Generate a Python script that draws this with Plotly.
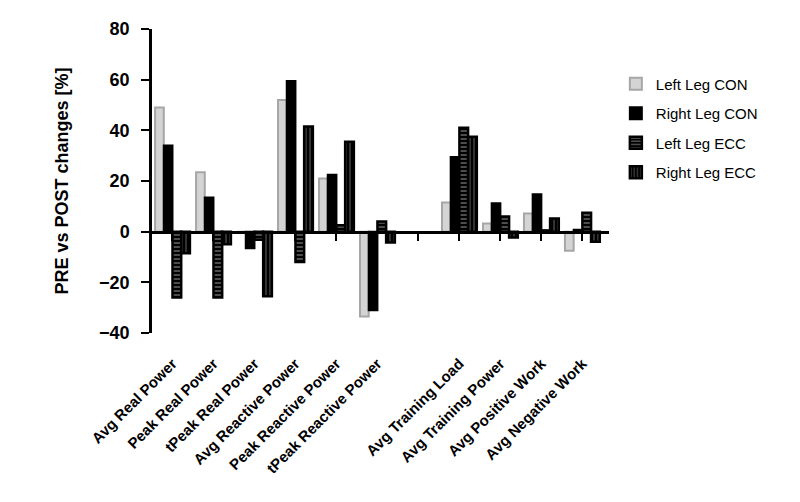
import plotly.graph_objects as go

categories = [
    "Avg Real Power",
    "Peak Real Power",
    "tPeak Real Power",
    "Avg Reactive Power",
    "Peak Reactive Power",
    "tPeak Reactive Power",
    " ",
    "Avg Training Load",
    "Avg Training Power",
    "Avg Positive Work",
    "Avg Negative Work",
]

left_con = [49, 23.5, 0, 52, 21, -33.5, None, 11.5, 3.2, 7.2, -7.5]
right_con = [34, 13.5, -6.5, 59.5, 22.5, -31, None, 29.5, 11.2, 14.8, 0.8]
left_ecc = [-26, -26, -3.2, -12, 2.5, 4, None, 41, 6, 0.5, 7.5]
right_ecc = [-8.5, -5, -25.5, 41.5, 35.5, -4.3, None, 37.5, -2.3, 5.2, -4]

FONT = "Liberation Sans, Arial, sans-serif"

fig = go.Figure()

fig.add_trace(go.Bar(
    x=categories, y=left_con, name="Left Leg CON", legendgroup="a",
    marker=dict(color="#d4d4d4", line=dict(color="#a6a6a6", width=2)),
))
fig.add_trace(go.Bar(
    x=categories, y=right_con, name="Right Leg CON", legendgroup="b",
    marker=dict(color="black", line=dict(color="black", width=2)),
))
fig.add_trace(go.Bar(
    x=categories, y=left_ecc, name="Left Leg ECC", legendgroup="c",
    marker=dict(
        color="black", line=dict(color="black", width=2.5),
        pattern=dict(shape="-", fgcolor="white", bgcolor="black", size=4, solidity=0.3),
    ),
))
fig.add_trace(go.Bar(
    x=categories, y=right_ecc, name="Right Leg ECC", legendgroup="d",
    marker=dict(
        color="black", line=dict(color="black", width=2.5),
        pattern=dict(shape="|", fgcolor="white", bgcolor="black", size=4, solidity=0.2),
    ),
))

fig.update_layout(
    width=800,
    height=502,
    margin=dict(l=144, r=199, t=21, b=177),
    plot_bgcolor="white",
    paper_bgcolor="white",
    font=dict(family=FONT, color="black"),
    barmode="group",
    bargap=0.15,
    bargroupgap=0.0,
    showlegend=True,
    legend=dict(
        x=1.015, y=0.873, xanchor="left", yanchor="top",
        font=dict(size=15, family=FONT),
        tracegroupgap=7,
        bgcolor="rgba(0,0,0,0)",
    ),
    xaxis=dict(
        type="category",
        categoryorder="array",
        categoryarray=categories,
        range=[-0.5, 10.65],
        showline=False,
        showgrid=False,
        zeroline=False,
        ticks="",
        tickangle=-45,
        ticklabelstandoff=18,
        tickfont=dict(size=15, family=FONT, weight="bold"),
    ),
    xaxis2=dict(
        overlaying="x",
        matches="x",
        anchor="free",
        position=1 / 3,
        showline=True,
        linecolor="black",
        linewidth=2.5,
        ticks="outside",
        ticklen=8,
        tickwidth=2,
        tickcolor="black",
        showticklabels=False,
        showgrid=False,
        zeroline=False,
    ),
    yaxis=dict(
        range=[-40, 80],
        tickvals=[-40, -20, 0, 20, 40, 60, 80],
        showline=True,
        linecolor="black",
        linewidth=2.5,
        ticks="outside",
        ticklen=8,
        tickwidth=2,
        tickcolor="black",
        ticklabelstandoff=8,
        showgrid=False,
        zeroline=False,
        tickfont=dict(size=18, family=FONT, weight="bold"),
        title=dict(
            text="PRE vs POST changes [%]",
            font=dict(size=18, family=FONT, weight="bold"),
            standoff=26,
        ),
    ),
)

# invisible trace so the zero-level axis is drawn
fig.add_trace(go.Bar(x=categories, y=[None] * len(categories), xaxis="x2",
                     showlegend=False, hoverinfo="skip"))

fig.write_html("out.html")
